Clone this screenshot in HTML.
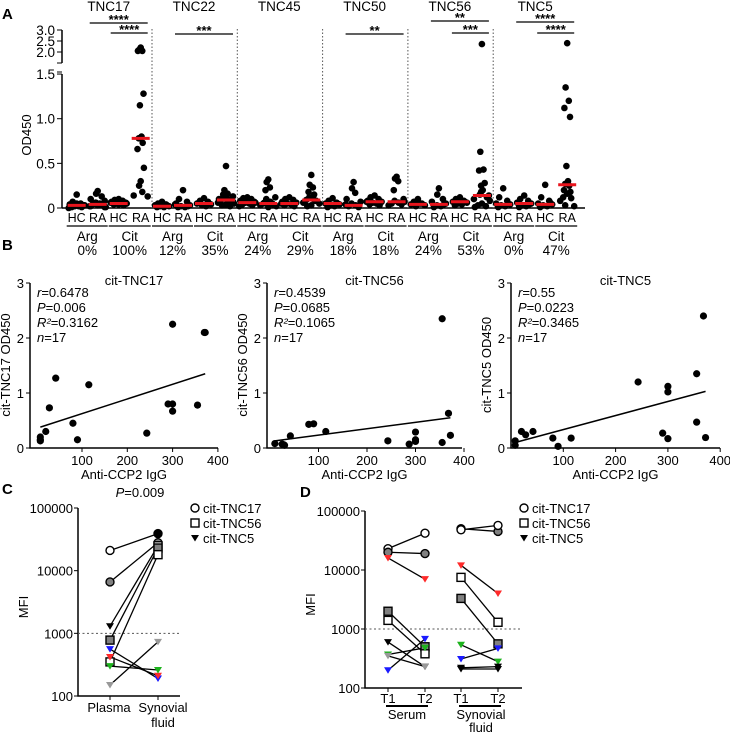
<!DOCTYPE html>
<html><head><meta charset="utf-8"><style>
body{margin:0;background:#fff}
svg{display:block;font-family:"Liberation Sans",Arial,sans-serif}
</style></head><body>
<svg id="fig" width="730" height="732" viewBox="0 0 730 732" xmlns="http://www.w3.org/2000/svg">
<g id="pa"></g>
<g id="pb"></g>
<g id="pc"></g>
<g id="pd"></g>
</svg>
<script>
// ---------- Panel A data ----------
const antigens = ["TNC17","TNC22","TNC45","TNC50","TNC56","TNC5"];
const argPct = ["0%","12%","24%","18%","24%","0%"];
const citPct = ["100%","35%","29%","18%","53%","47%"];
const colHCArg = [[0.15,0.07,0.05,0.04,0.03,0.02,0.02,0.01,0.01,0,0.03,0.05,0.02],[0.07,0.05,0.04,0.03,0.02,0.02,0.01,0.01,0.03],[0.12,0.11,0.1,0.08,0.07,0.06,0.05,0.04,0.03,0.02,0.06],[0.11,0.08,0.06,0.05,0.04,0.03,0.02,0.01,0.05],[0.1,0.07,0.05,0.04,0.03,0.02,0.05],[0.22,0.12,0.08,0.05,0.04,0.03,0.02,0.01,0.05]];
const colRAArg = [[0.19,0.16,0.13,0.1,0.08,0.06,0.05,0.04,0.03,0.02,0.01,0.03,0.05,0.04,0.02,0.01,0.06],[0.2,0.1,0.07,0.05,0.03,0.02,0.01,0.01,0.02,0.04],[0.32,0.29,0.23,0.2,0.12,0.1,0.07,0.05,0.04,0.03,0.02,0.01,0.06,0.05],[0.29,0.22,0.17,0.1,0.07,0.05,0.03,0.02,0.01,0.04],[0.22,0.15,0.1,0.07,0.05,0.03,0.02,0.01,0.04],[0.14,0.1,0.08,0.06,0.05,0.03,0.02,0.01,0.04]];
const colHCCit = [[0.1,0.09,0.08,0.07,0.06,0.05,0.05,0.04,0.03,0.06,0.05,0.04],[0.11,0.08,0.07,0.05,0.04,0.03,0.02,0.06,0.05],[0.12,0.1,0.09,0.07,0.06,0.05,0.04,0.03,0.02,0.05],[0.14,0.12,0.1,0.08,0.07,0.06,0.05,0.04,0.03,0.07],[0.12,0.1,0.08,0.07,0.06,0.05,0.04,0.03,0.07],[0.26,0.12,0.08,0.05,0.04,0.03,0.02,0.01,0.06]];
const colRACit = [[2.2,2.1,2.05,2.05,1.28,1.15,0.8,0.78,0.73,0.66,0.45,0.3,0.25,0.18,0.14,0.13,0.78],[0.47,0.2,0.16,0.15,0.13,0.12,0.1,0.09,0.08,0.06,0.05,0.04,0.03,0.02,0.1,0.07,0.11],[0.37,0.26,0.23,0.18,0.15,0.12,0.1,0.09,0.08,0.06,0.05,0.03,0.02,0.08],[0.35,0.33,0.3,0.2,0.1,0.08,0.06,0.05,0.04,0.03,0.07],[2.36,0.63,0.43,0.42,0.28,0.25,0.2,0.15,0.12,0.1,0.08,0.05,0.03,0.02,0.01,0.14,0.18],[2.4,1.35,1.2,1.12,1.02,0.47,0.3,0.27,0.25,0.2,0.18,0.16,0.12,0.11,0.08,0.02,0.03]];
const medians = [[0.03,0.04,0.05,0.78],[0.02,0.03,0.05,0.09],[0.06,0.05,0.05,0.09],[0.05,0.03,0.07,0.07],[0.04,0.04,0.07,0.14],[0.04,0.05,0.04,0.26]];
const sigBars = [[0,"****",1,3,23],[0,"****",2,3,33],[1,"***",1,3,34],[3,"**",1,3,34],[4,"**",1,3,21],[4,"***",2,3,33],[5,"****",1,3,22],[5,"****",2,3,33]];
const aTicks = [0,0.5,1.0,1.5];
const aTicksUp = [2.0,2.5,3.0];

// ---------- Panel B data ----------
const bTitles = ["cit-TNC17","cit-TNC56","cit-TNC5"];
const bYLabels = ["cit-TNC17 OD450","cit-TNC56 OD450","cit-TNC5 OD450"];
const bStats = [["0.6478","0.006","0.3162","17"],["0.4539","0.0685","0.1065","17"],["0.55","0.0223","0.3465","17"]];
const bX1 = [8,8,8,20,28,42,80,90,115,243,290,300,300,300,355,370,372];
const bY1 = [0.15,0.2,0.13,0.3,0.73,1.27,0.45,0.15,1.15,0.27,0.8,2.25,0.8,0.67,0.78,2.1,2.1];
const bX2 = [10,25,28,30,42,80,90,115,243,287,300,300,300,355,355,368,372];
const bY2 = [0.08,0.07,0.06,0.05,0.22,0.43,0.44,0.3,0.13,0.07,0.15,0.29,0.12,0.1,2.35,0.63,0.23];
const bX3 = [8,8,20,28,42,80,90,115,243,290,300,300,300,355,355,368,372];
const bY3 = [0.13,0.05,0.3,0.24,0.3,0.18,0.03,0.18,1.2,0.27,1.12,1.02,0.17,1.35,0.47,2.4,0.19];
const bFitX = [[8,372],[10,372],[8,372]];
const bFitY = [[0.38,1.35],[0.13,0.55],[0.1,1.03]];

// ---------- Panel C data ----------
const cStart = [21000,6600,1300,780,350,560,420,300,150];
const cEnd = [39000,28000,25000,23000,18000,190,210,260,730];
const cShapeS = ["co","cg","tk","sg","so","tb","tr","tn","ty"];
const cShapeE = ["ck","cg","so","sg","so","tb","tr","tn","ty"];
// ---------- Panel D data ----------
const dSerT1 = [23000,20000,16000,2000,1400,600,370,200,350];
const dSerT2 = [42000,19000,7000,500,380,230,480,680,230];
const dSerShape = ["co","cg","tr","sg","so","tk","tn","tb","ty"];
const dSfT1 = [50000,48000,12000,7500,3300,540,310,220,210];
const dSfT2 = [45000,57000,4000,1300,560,280,470,230,210];
const dSfShape = ["cg","co","tr","so","sg","tn","tb","tk","tk"];
const logTicks = [100,1000,10000,100000];

const NS="http://www.w3.org/2000/svg";
function mk(parent,tag,attrs,text){const e=document.createElementNS(NS,tag);for(const k in attrs)e.setAttribute(k,attrs[k]);if(text!==undefined)e.textContent=text;parent.appendChild(e);return e;}
const pa=document.getElementById('pa'),pb=document.getElementById('pb'),pc=document.getElementById('pc'),pd=document.getElementById('pd');
const root=document.getElementById('fig');
["A","B","C","D"].forEach((L,i)=>{const pos=[[2,19],[2,250],[2,494],[300,497]][i];
 const t=mk(root,'text',{x:pos[0],y:pos[1],'font-size':15,'font-weight':'bold'},L);
 
 });

// ===== Panel A =====
function ayA(v){return v<=1.55? 208-v*89.3 : 52-(v-2)*22;}
const gStart=66.7,gW=85.3,colOff=[10,31,52,74];
function colX(g,c){return gStart+g*gW+colOff[c];}
let ax=mk(pa,'path',{d:'M62,208V74 M62,63V30',stroke:'#000','stroke-width':1.5,fill:'none'});

mk(pa,'path',{d:'M57,63H62 M57,72H62',stroke:'#000','stroke-width':1});
aTicks.concat(aTicksUp).forEach(v=>{const y=ayA(v);mk(pa,'line',{x1:57,x2:62,y1:y,y2:y,stroke:'#000'});
 const t=mk(pa,'text',{x:55,y:y+5,'font-size':13.5,'text-anchor':'end'},v===0?'0':v.toFixed(1));
 });
let yt=mk(pa,'text',{x:0,y:0,'font-size':13,'text-anchor':'middle',transform:'translate(31,135) rotate(-90)'},'OD450');

let xa=mk(pa,'line',{x1:62,x2:585,y1:208,y2:208,stroke:'#000','stroke-width':1.5});

const cols=[colHCArg,colRAArg,colHCCit,colRACit];
const jit=[0,-4,4,-7,7,-2,2,-5,5,-8,8];
antigens.forEach((name,g)=>{
 const cx=(colX(g,0)+colX(g,3))/2;
 const t=mk(pa,'text',{x:cx,y:11,'font-size':13.5,'text-anchor':'middle'},name);
 
 if(g>0){const d=mk(pa,'line',{x1:gStart+g*gW,x2:gStart+g*gW,y1:29,y2:208,stroke:'#555','stroke-dasharray':'1.5,2','stroke-width':1});
  }
 cols.forEach((col,c)=>{
  const x=colX(g,c);
  col[g].forEach((v,i)=>{const p=mk(pa,'circle',{cx:x+jit[i%jit.length]*(v<0.15?1:0.4),cy:ayA(v),r:3.3,fill:'#000'});
   });
  const m=mk(pa,'line',{x1:x-9,x2:x+9,y1:ayA(medians[g][c]),y2:ayA(medians[g][c]),stroke:'#e8141c','stroke-width':3});
  
  const l=mk(pa,'text',{x:x,y:222,'font-size':12.5,'text-anchor':'middle'},c%2===0?'HC':'RA');
  
 });
 [0,1].forEach(k=>{const x1=colX(g,2*k)-10,x2=colX(g,2*k+1)+10,xm=(x1+x2)/2;
  mk(pa,'line',{x1:x1,x2:x2,y1:226,y2:226,stroke:'#000','stroke-width':1.3});
  const a=mk(pa,'text',{x:xm,y:241,'font-size':13.5,'text-anchor':'middle'},k?'Cit':'Arg');
  
  const p=mk(pa,'text',{x:xm,y:255,'font-size':13.5,'text-anchor':'middle'},k?citPct[g]:argPct[g]);
  });
});
sigBars.forEach(s=>{const x1=colX(s[0],s[2])-8,x2=colX(s[0],s[3])+7;
 const b=mk(pa,'line',{x1:x1,x2:x2,y1:s[4],y2:s[4],stroke:'#000','stroke-width':1.2});
 
 const t=mk(pa,'text',{x:(x1+x2)/2,y:s[4]+1,'font-size':13,'font-weight':'bold','text-anchor':'middle'},s[1]);
 });

// ===== Panel B =====
const bAxisX=[30,267,511],bPxPer=[0.453,0.485,0.523],bX0=[36.7,270,511],bXEnd=[218,462,720];
const bXs=[bX1,bX2,bX3],bYs=[bY1,bY2,bY3];
function byB(v){return 448-v*55;}
bTitles.forEach((title,k)=>{
 const fx=v=>bX0[k]+v*bPxPer[k];
 const g=mk(pb,'g',{});
 
 mk(g,'path',{d:`M${bAxisX[k]},283V448H${bXEnd[k]}`,stroke:'#000','stroke-width':1.5,fill:'none'});
 [0,1,2,3].forEach(v=>{mk(g,'line',{x1:bAxisX[k]-4,x2:bAxisX[k],y1:byB(v),y2:byB(v),stroke:'#000'});
  const t=mk(g,'text',{x:bAxisX[k]-6,y:byB(v)+5,'font-size':13,'text-anchor':'end'},String(v));
  });
 [100,200,300,400].forEach(v=>{mk(g,'line',{x1:fx(v),x2:fx(v),y1:448,y2:452,stroke:'#000'});
  const t=mk(g,'text',{x:fx(v),y:465,'font-size':13,'text-anchor':'middle'},String(v));
  });
 const xt=mk(g,'text',{x:(bAxisX[k]+bXEnd[k])/2,y:479,'font-size':13,'text-anchor':'middle'},'Anti-CCP2 IgG');
 
 const ytl=mk(g,'text',{x:0,y:0,'font-size':13,'text-anchor':'middle',transform:`translate(${bAxisX[k]-20},365) rotate(-90)`},bYLabels[k]);
 
 const tt=mk(g,'text',{x:(bAxisX[k]+bXEnd[k])/2+10,y:285,'font-size':13,'text-anchor':'middle'},title);
 
 const st=bStats[k],lx=bAxisX[k]+7;
 const lines=[['r','=',st[0]],['P','=',st[1]],['R²','=',st[2]],['n','=',st[3]]];
 lines.forEach((ln,i)=>{const t=mk(g,'text',{x:lx,y:297+i*15,'font-size':13});
  mk(t,'tspan',{'font-style':'italic'},ln[0]);mk(t,'tspan',{},ln[1]+ln[2]);
  });
 const fl=mk(g,'line',{x1:fx(bFitX[k][0]),y1:byB(bFitY[k][0]),x2:fx(bFitX[k][1]),y2:byB(bFitY[k][1]),stroke:'#000','stroke-width':1.5});
 
 bXs[k].forEach((xv,i)=>{const p=mk(g,'circle',{cx:fx(xv),cy:byB(bYs[k][i]),r:3.6,fill:'#000'});
  });
});

// ===== marker helper =====
const fills={o:'#fff',g:'#808080',k:'#000',b:'#1a1aff',r:'#ff2a2a',n:'#1db31d',y:'#999'};
function marker(g,code,x,y){const f=fills[code[1]],sh=code[0];let e;
 if(sh==='c')e=mk(g,'circle',{cx:x,cy:y,r:4,fill:f,stroke:'#000','stroke-width':1.4});
 else if(sh==='s')e=mk(g,'rect',{x:x-4,y:y-4,width:8,height:8,fill:f,stroke:'#000','stroke-width':1.4});
 else e=mk(g,'path',{d:`M${x-4},${y-3}H${x+4}L${x},${y+3.5}Z`,fill:f});
 }
function legend(g,x,y0){[["co","cit-TNC17"],["so","cit-TNC56"],["tk","cit-TNC5"]].forEach((l,i)=>{
 marker(g,l[0],x,y0+i*15);const t=mk(g,'text',{x:x+8,y:y0+i*15+5,'font-size':13},l[1]);
 });}
function logAxis(g,ax,yTop,yBot,xEnd,label){
 const fy=v=>yBot-(Math.log10(v)-2)*(yBot-yTop)/3;
 mk(g,'path',{d:`M${ax},${yTop}V${yBot}H${xEnd}`,stroke:'#000','stroke-width':1.5,fill:'none'});
 logTicks.forEach(v=>{mk(g,'line',{x1:ax-4,x2:ax,y1:fy(v),y2:fy(v),stroke:'#000'});
  const t=mk(g,'text',{x:ax-5,y:fy(v)+5,'font-size':13,'text-anchor':'end'},String(v));
  });
 const d=mk(g,'line',{x1:ax,x2:xEnd,y1:fy(1000),y2:fy(1000),stroke:'#555','stroke-dasharray':'2,2.5'});
 
 const t=mk(g,'text',{x:0,y:0,'font-size':13,'text-anchor':'middle',transform:`translate(${ax-50},${(yTop+yBot)/2+5}) rotate(-90)`},label);
 
 return fy;}

// ===== Panel C =====
const fyC=logAxis(pc,78,508,696,180,'MFI');
const cx1=110,cx2=158;
[cx1,cx2].forEach(x=>mk(pc,'line',{x1:x,x2:x,y1:696,y2:700,stroke:'#000'}));
let t1=mk(pc,'text',{x:cx1-1,y:712,'font-size':13,'text-anchor':'middle'},'Plasma');
let t2=mk(pc,'text',{x:cx2+5,y:712,'font-size':13,'text-anchor':'middle'},'Synovial');
let t3=mk(pc,'text',{x:cx2+5,y:727,'font-size':13,'text-anchor':'middle'},'fluid');
let pt=mk(pc,'text',{x:140,y:497,'font-size':13,'text-anchor':'middle'});mk(pt,'tspan',{'font-style':'italic'},'P');mk(pt,'tspan',{},'=0.009');

cStart.forEach((v,i)=>{const l=mk(pc,'line',{x1:cx1,y1:fyC(v),x2:cx2,y2:fyC(cEnd[i]),stroke:'#000','stroke-width':1.3});
 });
cStart.forEach((v,i)=>{marker(pc,cShapeS[i],cx1,fyC(v));marker(pc,cShapeE[i],cx2,fyC(cEnd[i]));});
legend(pc,195,508);

// ===== Panel D =====
const fyD=logAxis(pd,365,511,688,522,'MFI');
const dxs=[388,425,461,498];
dxs.forEach((x,i)=>{mk(pd,'line',{x1:x,x2:x,y1:688,y2:692,stroke:'#000'});
 const t=mk(pd,'text',{x:x,y:703,'font-size':13,'text-anchor':'middle'},i%2?'T2':'T1');
 });
mk(pd,'line',{x1:386,x2:428,y1:706,y2:706,stroke:'#000','stroke-width':2});
mk(pd,'line',{x1:459,x2:501,y1:706,y2:706,stroke:'#000','stroke-width':2});
let s1=mk(pd,'text',{x:407,y:719,'font-size':13,'text-anchor':'middle'},'Serum');
let s2=mk(pd,'text',{x:481,y:719,'font-size':13,'text-anchor':'middle'},'Synovial');
let s3=mk(pd,'text',{x:481,y:732,'font-size':13,'text-anchor':'middle'},'fluid');
[[dSerT1,dSerT2,dSerShape,0],[dSfT1,dSfT2,dSfShape,2]].forEach(set=>{
 const xa=dxs[set[3]],xb=dxs[set[3]+1];
 set[0].forEach((v,i)=>{const l=mk(pd,'line',{x1:xa,y1:fyD(v),x2:xb,y2:fyD(set[1][i]),stroke:'#000','stroke-width':1.3});
  });
 set[0].forEach((v,i)=>{marker(pd,set[2][i],xa,fyD(v));marker(pd,set[2][i],xb,fyD(set[1][i]));});
});
legend(pd,524,508);
</script>
</body></html>
